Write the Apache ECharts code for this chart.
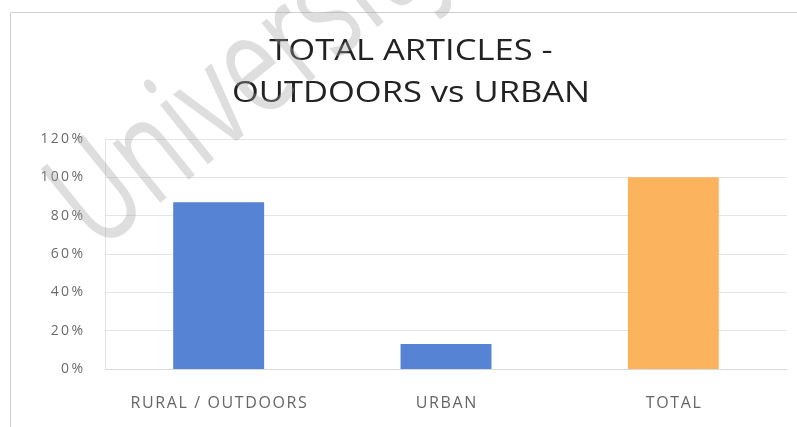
<!DOCTYPE html>
<html>
<head>
<meta charset="utf-8">
<script src="https://cdn.jsdelivr.net/npm/echarts@6/dist/echarts.min.js"></script>
<style>
html,body{margin:0;padding:0;background:#fff;}
#chart{width:797px;height:427px;}
</style>
</head>
<body>
<div id="chart"></div>
<script>
var categories = ['RURAL / OUTDOORS', 'URBAN', 'TOTAL'];
var values = [87, 13, 100];
var barColors = ['#5683D3', '#5683D3', '#FBB35E'];
var yTicks = [0, 20, 40, 60, 80, 100, 120];
var titleLines = ['TOTAL ARTICLES -', 'OUTDOORS vs URBAN'];

function spaced(s, sp) { return String(s).split('').join(sp || '\u200A'); }

var chart = echarts.init(document.getElementById('chart'));
chart.setOption({
  backgroundColor: '#ffffff',
  animation: false,
  graphic: [
    {
      type: 'rect',
      shape: {x: 10.5, y: 12.5, width: 800, height: 430},
      style: {fill: 'none', stroke: '#cfcfcf', lineWidth: 1},
      z: 0, silent: true
    },
    {
      type: 'text',
      x: 411, y: 30,
      scaleX: 1.15,
      style: {
        text: titleLines.join('\n'),
        fontFamily: 'Open Sans',
        fontSize: 30,
        lineHeight: 42,
        fill: '#222222',
        textAlign: 'center',
        textVerticalAlign: 'top'
      },
      z: 10, silent: true
    },
    {
      type: 'text',
      x: 72, y: 222,
      rotation: 0.68,
      scaleX: 0.7,
      style: {
        text: 'University',
        fontFamily: 'Open Sans',
        fontSize: 142,
        fill: 'rgba(160,160,160,0.35)',
        textAlign: 'left',
        textVerticalAlign: 'middle'
      },
      z: 100, silent: true
    }
  ],
  grid: {left: 105, right: 10, top: 139, bottom: 58},
  xAxis: {
    type: 'category',
    data: categories,
    axisTick: {show: false},
    axisLine: {lineStyle: {color: '#d9d9d9'}},
    axisLabel: {
      interval: 0,
      color: '#666666',
      fontFamily: 'Open Sans',
      fontSize: 16,
      margin: 26,
      formatter: function (v) { return spaced(v); }
    }
  },
  yAxis: {
    type: 'value',
    min: 0, max: 120, interval: 20,
    axisLine: {show: true, lineStyle: {color: '#e4e4e4'}},
    axisTick: {show: false},
    splitLine: {lineStyle: {color: '#e4e4e4'}},
    axisLabel: {
      color: '#6b6b6b',
      fontFamily: 'Open Sans',
      fontSize: 14,
      margin: 22,
      formatter: function (v) { return yTicks.indexOf(v) >= 0 ? spaced(v + '%', '\u2009') : ''; }
    }
  },
  series: [{
    type: 'bar',
    barWidth: '40%',
    data: values.map(function (v, i) { return {value: v, itemStyle: {color: barColors[i]}}; })
  }]
});
</script>
</body>
</html>
